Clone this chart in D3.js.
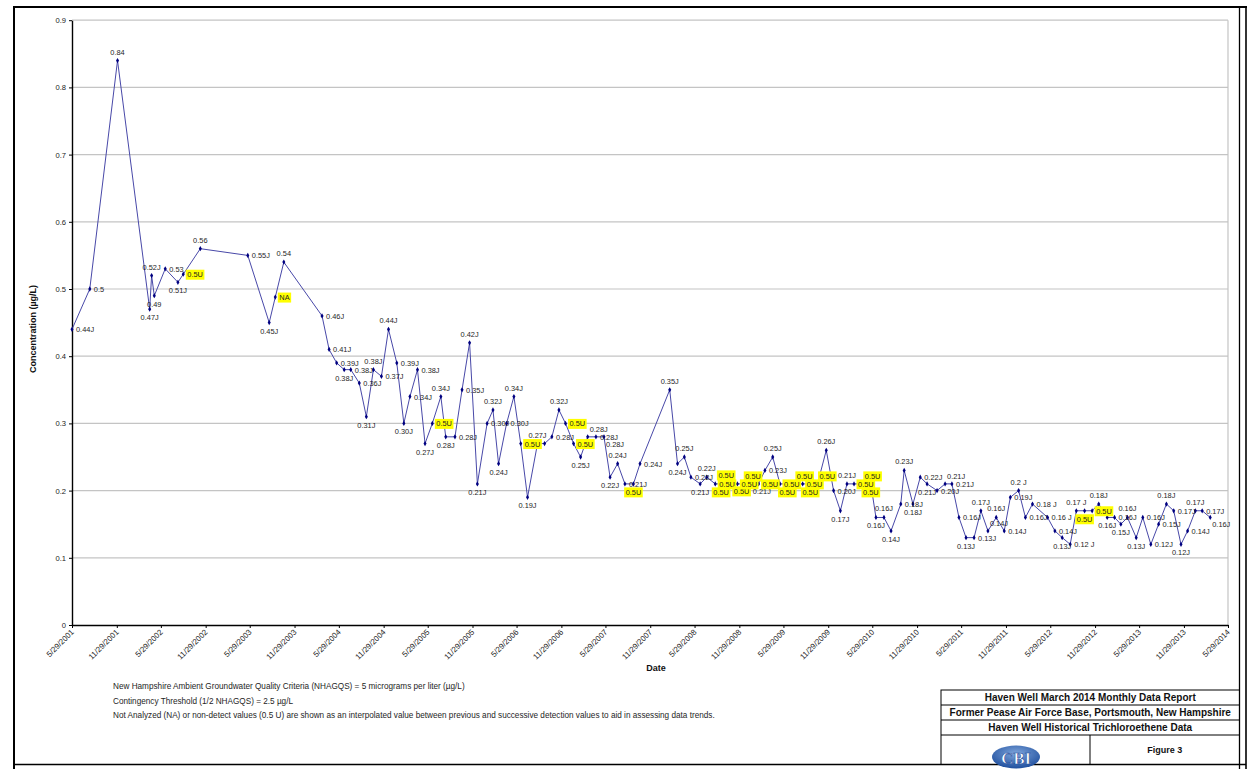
<!DOCTYPE html>
<html>
<head>
<meta charset="utf-8">
<script src="https://cdn.jsdelivr.net/npm/d3@7"></script>
<style>
  body { margin: 0; background: #fff; }
  svg { display: block; font-family: Arial, "Liberation Sans", sans-serif; }
</style>
</head>
<body>
<svg id="chart" width="1255" height="769"></svg>
<script>
// sample dates (M/D/YYYY), plotted concentration and the label shown beside each point
const sampleDates = [
  "5/29/2001","8/10/2001","12/2/2001","4/13/2002","4/21/2002","5/2/2002","6/16/2002","8/7/2002","8/29/2002","11/7/2002",
  "5/21/2003","8/17/2003","9/11/2003","10/16/2003","3/21/2004","4/19/2004","5/20/2004","6/20/2004","7/17/2004","8/21/2004",
  "9/19/2004","10/18/2004","11/20/2004","12/19/2004","1/22/2005","2/20/2005","3/17/2005","4/17/2005","5/18/2005","6/17/2005",
  "7/22/2005","8/11/2005","9/18/2005","10/17/2005","11/17/2005","12/19/2005","1/28/2006","2/21/2006","3/16/2006","4/18/2006",
  "5/18/2006","6/15/2006","7/13/2006","8/23/2006","9/21/2006","10/21/2006","11/19/2006","12/16/2006","1/18/2007","2/16/2007",
  "3/17/2007","4/20/2007","5/23/2007","6/17/2007","7/18/2007","8/17/2007","9/21/2007","10/18/2007","2/17/2008","3/20/2008",
  "4/17/2008","5/14/2008","6/21/2008","7/18/2008","8/22/2008","9/15/2008","10/6/2008","10/29/2008","11/21/2008","12/15/2008",
  "1/15/2009","2/16/2009","3/14/2009","4/15/2009","5/15/2009","6/14/2009","7/15/2009","8/16/2009","9/16/2009","10/16/2009",
  "11/21/2009","12/21/2009","1/18/2010","2/14/2010","3/15/2010","4/20/2010","5/23/2010","6/13/2010","7/16/2010","8/14/2010",
  "9/23/2010","10/7/2010","11/12/2010","12/12/2010","1/9/2011","2/19/2011","3/24/2011","4/21/2011","5/20/2011","6/18/2011",
  "7/21/2011","8/18/2011","9/16/2011","10/20/2011","11/22/2011","12/17/2011","1/20/2012","2/17/2012","3/17/2012","5/18/2012",
  "6/17/2012","7/17/2012","8/19/2012","9/13/2012","10/17/2012","11/17/2012","12/14/2012","1/18/2013","2/17/2013","3/15/2013",
  "4/11/2013","5/17/2013","6/13/2013","7/16/2013","8/17/2013","9/18/2013","10/18/2013","11/17/2013","12/14/2013","1/15/2014",
  "2/12/2014","3/17/2014"
];

const tceValues = [
  0.44,0.50,0.84,0.47,0.52,0.49,0.53,0.51,0.522,0.56,
  0.55,0.45,0.488,0.54,0.46,0.41,0.39,0.38,0.38,0.36,
  0.31,0.38,0.37,0.44,0.39,0.30,0.34,0.38,0.27,0.30,
  0.34,0.28,0.28,0.35,0.42,0.21,0.30,0.32,0.24,0.30,
  0.34,0.27,0.19,0.27,0.27,0.28,0.32,0.30,0.27,0.25,
  0.28,0.28,0.28,0.22,0.24,0.21,0.21,0.24,0.35,0.24,
  0.25,0.22,0.21,0.22,0.21,0.21,0.21,0.21,0.21,0.21,
  0.21,0.21,0.23,0.25,0.21,0.21,0.21,0.21,0.21,0.21,
  0.26,0.20,0.17,0.21,0.21,0.21,0.21,0.16,0.16,0.14,
  0.18,0.23,0.18,0.22,0.21,0.20,0.21,0.21,0.16,0.13,
  0.13,0.17,0.14,0.16,0.14,0.19,0.20,0.16,0.18,0.16,
  0.14,0.13,0.12,0.17,0.17,0.17,0.18,0.16,0.16,0.15,
  0.16,0.13,0.16,0.12,0.15,0.18,0.17,0.12,0.14,0.17,
  0.17,0.16
];

const pointLabels = [
  "0.44J","0.5","0.84","0.47J","0.52J","0.49","0.53","0.51J","0.5U","0.56",
  "0.55J","0.45J","NA","0.54","0.46J","0.41J","0.39J","0.38J","0.38J","0.36J",
  "0.31J","0.38J","0.37J","0.44J","0.39J","0.30J","0.34J","0.38J","0.27J","0.5U",
  "0.34J","0.28J","0.28J","0.35J","0.42J","0.21J","0.30J","0.32J","0.24J","0.30J",
  "0.34J","0.5U","0.19J","0.27J","","0.28J","0.32J","0.5U","0.5U","0.25J",
  "0.28J","0.28J","0.28J","0.22J","0.24J","0.21J","0.5U","0.24J","0.35J","0.24J",
  "0.25J","0.22J","0.21J","0.22J","0.5U","0.5U","0.5U","0.5U","0.5U","0.5U",
  "0.21J","0.5U","0.23J","0.25J","0.5U","0.5U","0.5U","0.5U","0.5U","0.5U",
  "0.26J","0.20J","0.17J","0.21J","0.5U","0.5U","0.5U","0.16J","0.16J","0.14J",
  "0.18J","0.23J","0.18J","0.22J","0.21J","0.20J","0.21J","0.21J","0.16J","0.13J",
  "0.13J","0.17J","0.14J","0.16J","0.14J","0.19J","0.2 J","0.16J","0.18 J","0.16 J",
  "0.14J","0.13J","0.12 J","0.17 J","0.5U","0.5U","0.18J","0.16J","0.16J","0.15J",
  "0.16J","0.13J","0.16J","0.12J","0.15J","0.18J","0.17J","0.12J","0.14J","0.17J",
  "0.17J","0.16J"
];

// labels that get the yellow highlight (non-detect / not analysed)
const flaggedLabels = ["0.5U", "NA"];

const yTickValues = [0, 0.1, 0.2, 0.3, 0.4, 0.5, 0.6, 0.7, 0.8, 0.9];
const yTickLabels = ["0", "0.1", "0.2", "0.3", "0.4", "0.5", "0.6", "0.7", "0.8", "0.9"];

const xTickLabels = [
  "5/29/2001","11/29/2001","5/29/2002","11/29/2002","5/29/2003","11/29/2003","5/29/2004","11/29/2004",
  "5/29/2005","11/29/2005","5/29/2006","11/29/2006","5/29/2007","11/29/2007","5/29/2008","11/29/2008",
  "5/29/2009","11/29/2009","5/29/2010","11/29/2010","5/29/2011","11/29/2011","5/29/2012","11/29/2012",
  "5/29/2013","11/29/2013","5/29/2014"
];

const noteLines = [
  "New Hampshire Ambient Groundwater Quality Criteria (NHAGQS) = 5 micrograms per liter (µg/L)",
  "Contingency Threshold (1/2 NHAGQS) = 2.5 µg/L",
  "Not Analyzed (NA) or non-detect values (0.5 U) are shown as an interpolated value between previous and successive detection values to aid in assessing data trends."
];

const titleLines = [
  "Haven Well March 2014 Monthly Data Report",
  "Former Pease Air Force Base, Portsmouth, New Hampshire",
  "Haven Well Historical Trichloroethene Data"
];

const parseDate = d3.timeParse("%m/%d/%Y");
const samples = sampleDates.map((d, i) => ({
  date: parseDate(d),
  value: tceValues[i],
  label: pointLabels[i]
}));
const xTickDates = xTickLabels.map(parseDate);

const svg = d3.select("#chart");

// plot area
const plot = { left: 72, right: 1228, top: 20.2, bottom: 625 };

const xScale = d3.scaleTime()
  .domain([xTickDates[0], xTickDates[xTickDates.length - 1]])
  .range([plot.left, plot.right]);

const yScale = d3.scaleLinear()
  .domain([0, 0.9])
  .range([plot.bottom, plot.top]);

// page frame
const frame = svg.append("g").attr("stroke", "#000").attr("fill", "none");
frame.append("line").attr("x1", 13).attr("x2", 1247).attr("y1", 7).attr("y2", 7).attr("stroke-width", 2);
frame.append("line").attr("x1", 14).attr("x2", 14).attr("y1", 6).attr("y2", 769).attr("stroke-width", 2);
frame.append("line").attr("x1", 1239.5).attr("x2", 1239.5).attr("y1", 7).attr("y2", 769).attr("stroke-width", 1.3);
frame.append("line").attr("x1", 1246).attr("x2", 1246).attr("y1", 6).attr("y2", 769).attr("stroke-width", 1.6);
frame.append("line").attr("x1", 14).attr("x2", 1246).attr("y1", 764.5).attr("y2", 764.5).attr("stroke-width", 1.3);

// gridlines
svg.append("g")
  .selectAll("line")
  .data(yTickValues.filter(v => v > 0))
  .enter().append("line")
  .attr("x1", plot.left)
  .attr("x2", plot.right)
  .attr("y1", d => yScale(d))
  .attr("y2", d => yScale(d))
  .attr("stroke", "#c4c4c4")
  .attr("stroke-width", 1.2);

svg.append("line")
  .attr("x1", plot.right).attr("x2", plot.right)
  .attr("y1", plot.top).attr("y2", plot.bottom)
  .attr("stroke", "#c4c4c4")
  .attr("stroke-width", 1.2);

// y axis
const yAxis = svg.append("g")
  .attr("transform", `translate(${plot.left},0)`)
  .call(d3.axisLeft(yScale)
    .tickValues(yTickValues)
    .tickSize(3)
    .tickSizeOuter(0)
    .tickFormat((d, i) => yTickLabels[i]));
yAxis.select(".domain").attr("stroke", "#000").attr("stroke-width", 1.4);
yAxis.selectAll(".tick line").attr("stroke", "#000");
yAxis.selectAll("text")
  .attr("x", -6)
  .style("font-size", "7.6px")
  .style("fill", "#222")
  .attr("font-family", "Arial, 'Liberation Sans', sans-serif");

// x axis
const xAxis = svg.append("g")
  .attr("transform", `translate(0,${plot.bottom})`)
  .call(d3.axisBottom(xScale)
    .tickValues(xTickDates)
    .tickSize(3)
    .tickSizeOuter(0)
    .tickFormat((d, i) => xTickLabels[i]));
xAxis.select(".domain").attr("stroke", "#000").attr("stroke-width", 1.6);
xAxis.selectAll(".tick line").attr("stroke", "#000");
xAxis.selectAll("text")
  .attr("x", -4)
  .attr("y", 4)
  .attr("dy", "0.35em")
  .attr("transform", "rotate(-45)")
  .style("text-anchor", "end")
  .style("font-size", "7.9px")
  .style("fill", "#222")
  .attr("font-family", "Arial, 'Liberation Sans', sans-serif");

// axis titles
svg.append("text")
  .attr("transform", "rotate(-90)")
  .attr("x", -329)
  .attr("y", 36)
  .attr("text-anchor", "middle")
  .style("font-size", "9px")
  .style("font-weight", "700")
  .style("fill", "#111")
  .text("Concentration (µg/L)");

svg.append("text")
  .attr("x", 656)
  .attr("y", 671)
  .attr("text-anchor", "middle")
  .style("font-size", "9px")
  .style("font-weight", "700")
  .style("fill", "#111")
  .text("Date");

// data line
const line = d3.line()
  .x(d => xScale(d.date))
  .y(d => yScale(d.value));

svg.append("path")
  .datum(samples)
  .attr("d", line)
  .attr("fill", "none")
  .attr("stroke", "#4848a8")
  .attr("stroke-width", 1);

svg.append("g")
  .selectAll("path")
  .data(samples)
  .enter().append("path")
  .attr("d", d3.symbol(d3.symbolDiamond, 8))
  .attr("transform", d => `translate(${xScale(d.date)},${yScale(d.value)})`)
  .attr("fill", "#000080");

// preferred label side: peaks above, troughs below, flat runs alternate, the rest to the right
const sides = [];
tceValues.forEach((v, i) => {
  let side = "right";
  if (i > 0 && i < tceValues.length - 1) {
    const p = tceValues[i - 1], n = tceValues[i + 1];
    if (v === p && v === n) side = i % 2 ? "above" : "below";
    else if (v >= p && v >= n) side = "above";
    else if (v <= p && v <= n) side = "below";
  }
  sides.push(side);
});

// where a label goes for each side (anchor point, text-anchor)
function labelSpot(side, px, py, w) {
  switch (side) {
    case "above": return { x: px, y: py - 6, anchor: "middle", box: [px - w / 2, py - 12, w, 7] };
    case "below": return { x: px, y: py + 11, anchor: "middle", box: [px - w / 2, py + 5, w, 7] };
    case "left": return { x: px - 4, y: py + 3, anchor: "end", box: [px - 4 - w, py - 3, w, 7] };
    case "aboveRight": return { x: px + 2, y: py - 5, anchor: "start", box: [px + 2, py - 11, w, 7] };
    case "belowRight": return { x: px + 2, y: py + 10, anchor: "start", box: [px + 2, py + 4, w, 7] };
    default: return { x: px + 4, y: py + 3, anchor: "start", box: [px + 4, py - 3, w, 7] };
  }
}

function overlapArea(a, b) {
  const ox = Math.min(a[0] + a[2], b[0] + b[2]) - Math.max(a[0], b[0]);
  const oy = Math.min(a[1] + a[3], b[1] + b[3]) - Math.max(a[1], b[1]);
  return ox > 0 && oy > 0 ? ox * oy : 0;
}

const placedBoxes = [];
const labelLayer = svg.append("g");
samples.forEach((d, i) => {
  if (!d.label) return;
  const px = xScale(d.date), py = yScale(d.value);
  const g = labelLayer.append("g");
  const t = g.append("text")
    .style("font-size", "7.4px")
    .style("fill", "#1e1e1e")
    .text(d.label);
  const w = t.node().getComputedTextLength() + (flaggedLabels.includes(d.label) ? 3 : 0);

  // try the preferred side first, then the others; keep the least crowded spot
  const order = [sides[i], "right", "above", "below", "aboveRight", "belowRight", "left"]
    .filter((s, k, arr) => arr.indexOf(s) === k);
  let best = null, bestScore = Infinity;
  order.forEach((s, k) => {
    const spot = labelSpot(s, px, py, w);
    const score = placedBoxes.reduce((acc, b) => acc + overlapArea(spot.box, b), 0) + k * 0.5;
    if (score < bestScore) { bestScore = score; best = spot; }
  });
  placedBoxes.push(best.box);
  t.attr("x", best.x).attr("y", best.y).attr("text-anchor", best.anchor);

  if (flaggedLabels.includes(d.label)) {
    const bb = t.node().getBBox();
    g.insert("rect", "text")
      .attr("x", bb.x - 1.5)
      .attr("y", bb.y - 0.5)
      .attr("width", bb.width + 3)
      .attr("height", bb.height + 1)
      .attr("fill", "#ffff00");
  }
});

// notes under the chart
svg.append("g")
  .selectAll("text")
  .data(noteLines)
  .enter().append("text")
  .attr("x", 113)
  .attr("y", (d, i) => 689 + i * 14.5)
  .style("font-size", "8.2px")
  .style("fill", "#1e1e1e")
  .text(d => d);

// title block
const block = { left: 941, right: 1239.5, top: 690, rowH: 15, bottom: 764.5, split: 1090 };
const tb = svg.append("g");
tb.append("rect")
  .attr("x", block.left).attr("y", block.top)
  .attr("width", block.right - block.left).attr("height", block.bottom - block.top)
  .attr("fill", "none").attr("stroke", "#000").attr("stroke-width", 1);
[1, 2, 3].forEach(k => {
  tb.append("line")
    .attr("x1", block.left).attr("x2", block.right)
    .attr("y1", block.top + k * block.rowH).attr("y2", block.top + k * block.rowH)
    .attr("stroke", "#000").attr("stroke-width", 1);
});
tb.append("line")
  .attr("x1", block.split).attr("x2", block.split)
  .attr("y1", block.top + 3 * block.rowH).attr("y2", block.bottom)
  .attr("stroke", "#000").attr("stroke-width", 1);
tb.selectAll("text.title")
  .data(titleLines)
  .enter().append("text")
  .attr("class", "title")
  .attr("x", (block.left + block.right) / 2)
  .attr("y", (d, i) => block.top + i * block.rowH + 11.2)
  .attr("text-anchor", "middle")
  .style("font-size", "10px")
  .style("font-weight", "700")
  .style("fill", "#111")
  .text(d => d);
tb.append("text")
  .attr("x", (block.split + block.right) / 2)
  .attr("y", block.top + 3 * block.rowH + 18)
  .attr("text-anchor", "middle")
  .style("font-size", "9px")
  .style("font-weight", "700")
  .style("fill", "#111")
  .text("Figure 3");

// CBI logo
const defs = svg.append("defs");
const grad = defs.append("radialGradient").attr("id", "logoGrad")
  .attr("cx", "50%").attr("cy", "35%").attr("r", "65%");
grad.append("stop").attr("offset", "0%").attr("stop-color", "#7fa6dc");
grad.append("stop").attr("offset", "100%").attr("stop-color", "#1f4f9e");
const logo = tb.append("g");
logo.append("ellipse")
  .attr("cx", 1016).attr("cy", 757)
  .attr("rx", 24).attr("ry", 11.5)
  .attr("fill", "url(#logoGrad)");
logo.append("text")
  .attr("x", 1016).attr("y", 763.5)
  .attr("text-anchor", "middle")
  .style("font-family", "'Liberation Serif', 'DejaVu Serif', serif")
  .style("font-size", "17px")
  .style("font-weight", "700")
  .style("fill", "#fff")
  .style("stroke", "#1f4f9e")
  .style("stroke-width", 0.6)
  .text("CBI");
</script>
</body>
</html>
